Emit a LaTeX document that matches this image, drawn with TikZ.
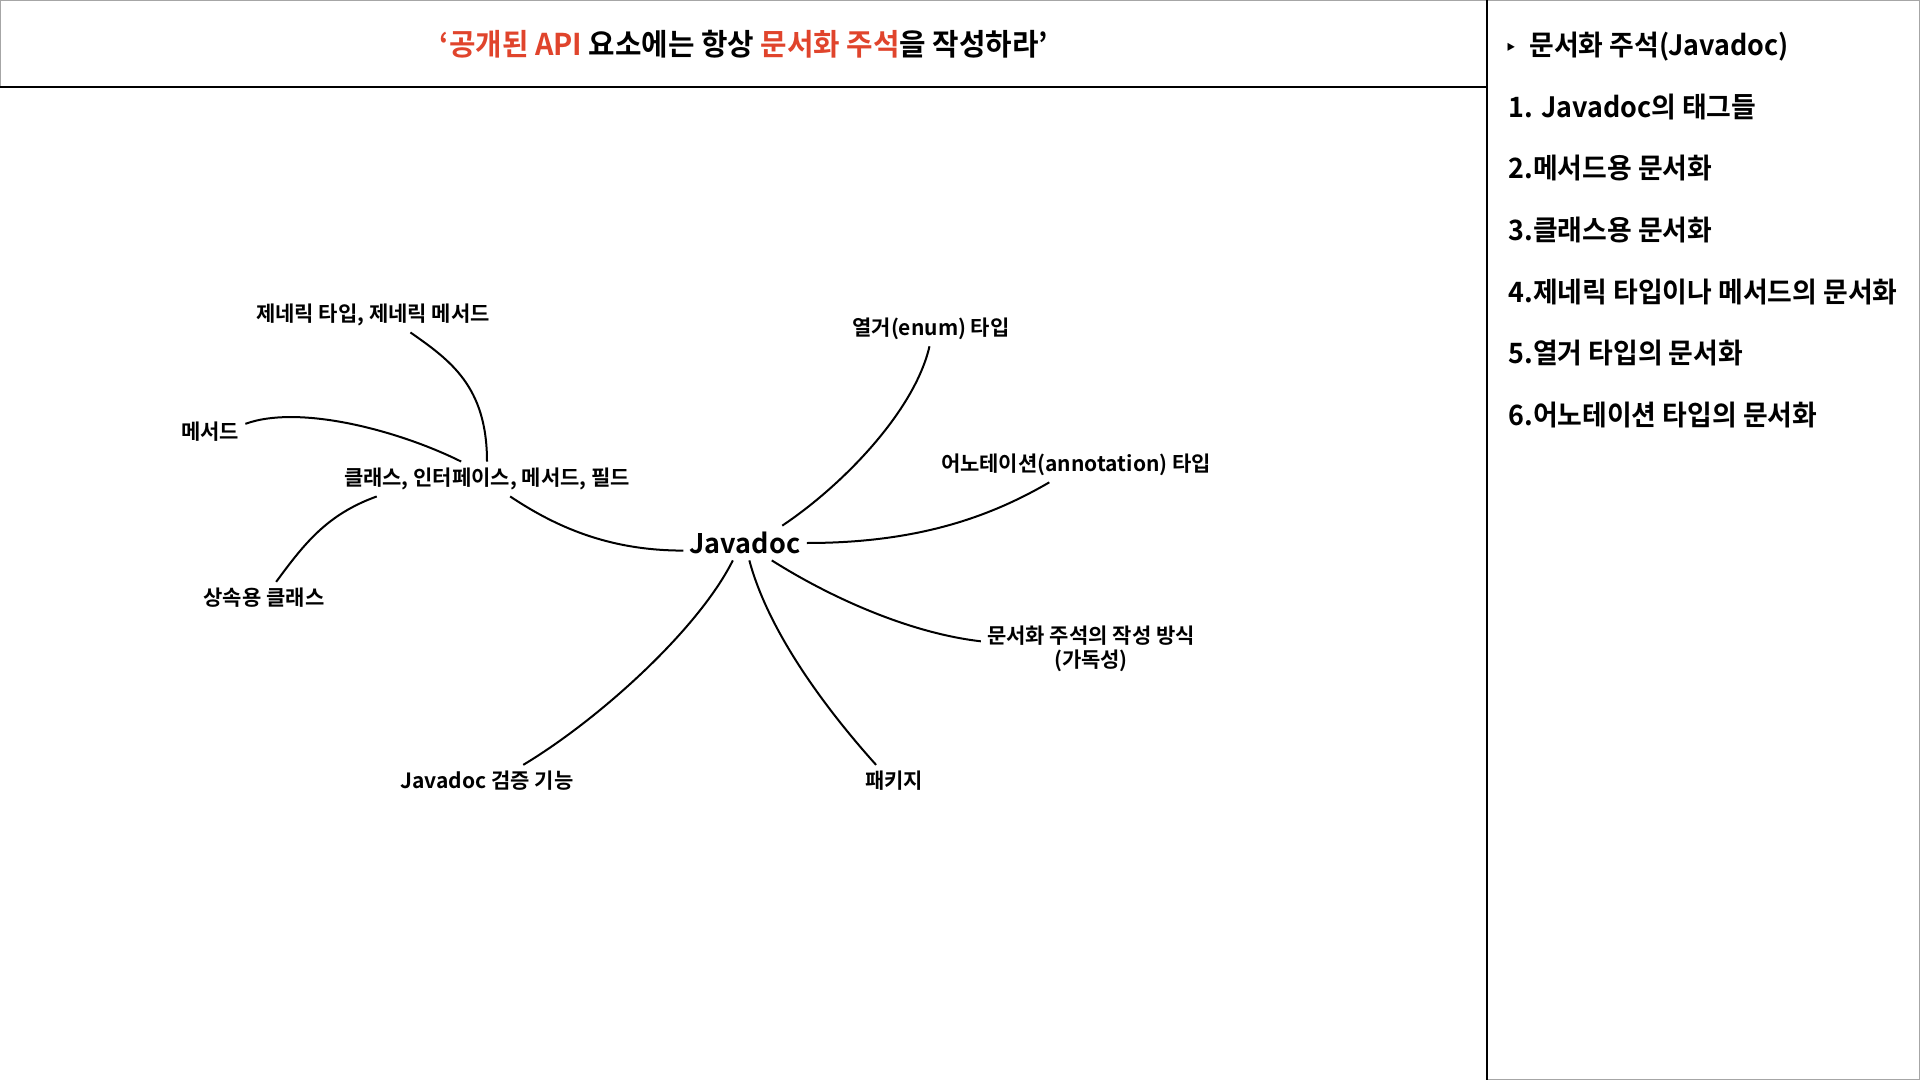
\documentclass[tikz,border=0pt]{standalone}
\usepackage{fontspec}
\usepackage{xcolor}
\setmainfont{Noto Sans CJK KR Bold}
\newfontfamily\titlefont{Noto Sans CJK KR Bold}[FakeStretch=0.96]
\newfontfamily\sidefont{Noto Sans CJK KR Bold}[FakeStretch=0.96]
\newfontfamily\mapfont{Noto Sans CJK KR Bold}
\newfontfamily\bulletfont{DejaVu Sans}
\definecolor{titlered}{HTML}{E0442C}
\tikzset{branch/.style={line width=1pt}}

\begin{document}
\begin{tikzpicture}[x=0.5pt,y=-0.5pt,
    lbl/.style={font=\mapfont\fontsize{10.5}{12}\selectfont, inner sep=3pt, align=center},
    side/.style={font=\sidefont\fontsize{14}{17}\selectfont, anchor=west, inner sep=0pt}]
  \useasboundingbox (0,0) rectangle (1920,1080);
  % frames
  \draw[gray!70, line width=0.75pt] (0,87) -- (0,0.5) -- (1919.5,0.5) -- (1919.5,1079.5) -- (1487,1079.5);
  \draw[line width=1pt] (0,87) -- (1487,87);
  \draw[line width=1pt] (1487,0) -- (1487,1080);

  \node[font=\titlefont\fontsize{15}{18}\selectfont] (title) at (744,44)
    {\textcolor{titlered}{‘공개된 API} 요소에는 항상 \textcolor{titlered}{문서화 주석}을 작성하라’};

  % sidebar
  \node[side] (s0) at (1504,47) {{\bulletfont\fontsize{11}{11}\selectfont ‣}\hspace{6pt}문서화 주석(Javadoc)};
  \node[side] (s1) at (1508,107) {1. Javadoc의 태그들};
  \node[side] (s2) at (1508,168) {2.메서드용 문서화};
  \node[side] (s3) at (1508,230) {3.클래스용 문서화};
  \node[side] (s4) at (1508,292) {4.제네릭 타입이나 메서드의 문서화};
  \node[side] (s5) at (1508,353) {5.열거 타입의 문서화};
  \node[side] (s6) at (1508,415) {6.어노테이션 타입의 문서화};

  % mind map
  \node[lbl, font=\mapfont\fontsize{13.5}{16}\selectfont] (javadoc) at (745,543) {Javadoc};
  \node[lbl] (cls) at (487,479) {클래스, 인터페이스, 메서드, 필드};
  \node[lbl] (gen) at (373,315) {제네릭 타입, 제네릭 메서드};
  \node[lbl] (meth) at (210,432) {메서드};
  \node[lbl] (inh) at (264,598) {상속용 클래스};
  \node[lbl] (enum) at (931,329) {열거(enum) 타입};
  \node[lbl] (anno) at (1076,465) {어노테이션(annotation) 타입};
  \node[lbl] (howto) at (1091,649) {문서화 주석의 작성 방식\\(가독성)};
  \node[lbl] (check) at (487,781) {Javadoc 검증 기능};
  \node[lbl] (pkg) at (894,781) {패키지};

  \draw[branch] (javadoc.187) .. controls +(-75,0) and +(45,30) .. (cls.323);
  \draw[branch] (cls.north) .. controls +(0,-75) and +(40,28) .. (gen.335);
  \draw[branch] (cls.146) .. controls +(-60,-30) and +(55,-20) .. (meth.13);
  \draw[branch] (cls.189) .. controls +(-50,18) and +(28,-38) .. (inh.53);
  \draw[branch] (javadoc.25) .. controls +(60,-40) and +(-15,65) .. (enum.265);
  \draw[branch] (javadoc.east) .. controls +(110,0) and +(-60,35) .. (anno.213);
  \draw[branch] (javadoc.327) .. controls +(60,38) and +(-70,-8) .. (howto.176);
  \draw[branch] (javadoc.235) .. controls +(-35,70) and +(75,-45) .. (check.24);
  \draw[branch] (javadoc.284) .. controls +(20,75) and +(-45,-50) .. (pkg.138);
\end{tikzpicture}
\end{document}
